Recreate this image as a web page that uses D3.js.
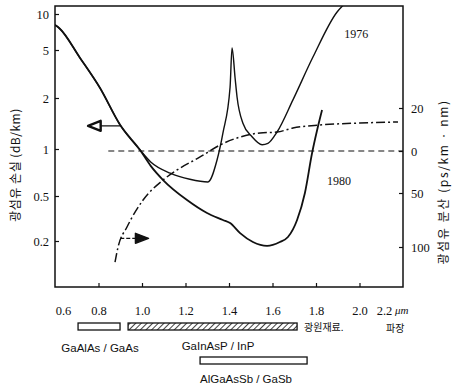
<!DOCTYPE html>
<html>
<head>
<meta charset="utf-8">
<script src="https://cdn.jsdelivr.net/npm/d3@7"></script>
<style>
  body { margin: 0; background: #fff; }
  text { fill: #111; }
</style>
</head>
<body>
<div id="viz"></div>
<script>
// fibre loss, 1976 (with the OH peak at 1.38um) and 1980
const wavelength1976 = [0.60, 0.62, 0.715, 0.807, 0.899, 0.991, 1.04, 1.13, 1.22, 1.303, 1.345, 1.372, 1.405, 1.414, 1.428, 1.437, 1.464, 1.506, 1.552, 1.579, 1.621, 1.694, 1.786, 1.897, 1.93];
const loss1976 = [8.1, 7.6, 4.3, 2.42, 1.39, 0.985, 0.826, 0.70, 0.64, 0.615, 0.85, 1.24, 2.47, 5.2, 2.93, 2.04, 1.42, 1.18, 1.06, 1.08, 1.26, 1.95, 4.37, 10.4, 12.1];
const wavelength1980 = [0.60, 0.62, 0.715, 0.807, 0.899, 0.991, 1.04, 1.097, 1.207, 1.299, 1.372, 1.405, 1.451, 1.510, 1.575, 1.634, 1.671, 1.713, 1.749, 1.782, 1.805, 1.828];
const loss1980 = [8.1, 7.6, 4.3, 2.42, 1.39, 0.985, 0.78, 0.633, 0.461, 0.354, 0.307, 0.288, 0.235, 0.196, 0.181, 0.196, 0.217, 0.307, 0.523, 0.943, 1.29, 1.70];

// material dispersion (right axis)
const wavelengthDisp = [0.876, 0.890, 0.931, 1.005, 1.097, 1.161, 1.267, 1.359, 1.451, 1.543, 1.621, 1.694, 1.818, 2.002, 2.177];
const dispersion = [-114, -100, -81.5, -56.5, -34.5, -22.6, -7.1, 2.8, 6.5, 8.4, 8.8, 10.7, 12.1, 13.0, 13.5];

// tick labels
const wavelengthTicks = [0.6, 0.8, 1.0, 1.2, 1.4, 1.6, 1.8, 2.0, 2.2];
const lossTicks = [10, 5, 2, 1, 0.5, 0.2];
const lossTickLabels = ["10", "5", "2", "1", "0.5", "0.2"];
const dispTicks = [20, 0, -50, -100];
const dispTickLabels = ["20", "0", "50", "100"];

// light source materials and their wavelength ranges
const sourceNames = ["GaAlAs / GaAs", "GaInAsP / InP", "AlGaAsSb / GaSb"];
const sourceStart = [0.706, 0.936, 1.267];
const sourceEnd = [0.899, 1.713, 1.759];

const W = 458, H = 386;
const plotL = 55, plotR = 403, plotT = 6, plotB = 287;

const svg = d3.select("#viz")
    .append("svg")
    .attr("width", W)
    .attr("height", H);

const defs = svg.append("defs");
defs.append("clipPath").attr("id", "plot")
    .append("rect")
    .attr("x", plotL).attr("y", plotT)
    .attr("width", plotR - plotL).attr("height", plotB - plotT);

const hatch = defs.append("pattern")
    .attr("id", "hatch")
    .attr("patternUnits", "userSpaceOnUse")
    .attr("width", 4).attr("height", 4)
    .attr("patternTransform", "rotate(45)");
hatch.append("line")
    .attr("x1", 0).attr("y1", 0).attr("x2", 0).attr("y2", 4)
    .attr("stroke", "#111").attr("stroke-width", 1.6);

// scales (the scanned chart's log axis is hand spaced, so piecewise)
const x = d3.scaleLinear().domain([0.6, 2.2]).range([plotL, plotR]);
const yLoss = d3.scaleLog().domain(lossTicks).range([14, 50, 98, 149, 196, 241]);
const yDisp = d3.scaleLinear().domain(dispTicks).range([108, 151, 193, 247]);

const serif = "'Liberation Serif', 'DejaVu Serif', serif";

// axes
const xAxis = d3.axisBottom(x)
    .tickValues(wavelengthTicks)
    .tickSize(-4)
    .tickPadding(19)
    .tickFormat(d3.format(".1f"));
const gx = svg.append("g")
    .attr("transform", `translate(0,${plotB})`)
    .call(xAxis);

gx.selectAll(".tick text")
    .attr("dx", (d) => d === 0.6 ? 8 : (d === 2.2 ? -19 : 0));
gx.selectAll(".tick line")
    .attr("opacity", (d) => (d === 0.6 || d === 2.2) ? 0 : 1);

const yAxis = d3.axisLeft(yLoss)
    .tickValues(lossTicks)
    .tickSize(-4)
    .tickPadding(6)
    .tickFormat((d, i) => lossTickLabels[i]);
const gy = svg.append("g")
    .attr("transform", `translate(${plotL},0)`)
    .call(yAxis);

const yAxisR = d3.axisRight(yDisp)
    .tickValues(dispTicks)
    .tickSize(-4)
    .tickPadding(8)
    .tickFormat((d, i) => dispTickLabels[i]);
const gyr = svg.append("g")
    .attr("transform", `translate(${plotR},0)`)
    .call(yAxisR);

[gx, gy, gyr].forEach((g) => {
    g.attr("font-family", null);
    g.select(".domain").remove();
    g.selectAll(".tick line").attr("stroke", "#111").attr("stroke-width", 1.2);
    g.selectAll("text").style("font-family", serif).style("font-size", "12.5px").attr("fill", "#111");
});

gx.append("text")
    .attr("x", x(2.2) - 8).attr("y", 27)
    .attr("text-anchor", "start")
    .attr("fill", "#111")
    .style("font-family", serif)
    .style("font-size", "11px")
    .style("font-style", "italic")
    .text("μm");

// frame
svg.append("rect")
    .attr("x", plotL).attr("y", plotT)
    .attr("width", plotR - plotL).attr("height", plotB - plotT)
    .attr("fill", "none")
    .attr("stroke", "#111")
    .attr("stroke-width", 1.5);

const plot = svg.append("g").attr("clip-path", "url(#plot)");

// zero-dispersion line
plot.append("line")
    .attr("x1", x(0.845)).attr("x2", x(2.2))
    .attr("y1", yDisp(0)).attr("y2", yDisp(0))
    .attr("stroke", "#111")
    .attr("stroke-width", 1.1)
    .attr("stroke-dasharray", "6,4");

const lossLine = d3.line()
    .x((d) => x(d[0]))
    .y((d) => yLoss(d[1]))
    .curve(d3.curveMonotoneX);

plot.append("path")
    .datum(d3.zip(wavelength1976, loss1976))
    .attr("fill", "none")
    .attr("stroke", "#111")
    .attr("stroke-width", 1.4)
    .attr("d", lossLine);

plot.append("path")
    .datum(d3.zip(wavelength1980, loss1980))
    .attr("fill", "none")
    .attr("stroke", "#111")
    .attr("stroke-width", 1.8)
    .attr("d", lossLine);

const dispLine = d3.line()
    .x((d) => x(d[0]))
    .y((d) => yDisp(d[1]))
    .curve(d3.curveMonotoneX);

plot.append("path")
    .datum(d3.zip(wavelengthDisp, dispersion))
    .attr("fill", "none")
    .attr("stroke", "#111")
    .attr("stroke-width", 1.5)
    .attr("stroke-dasharray", "9,3,2,3")
    .attr("d", dispLine);

// arrow pointing to the left axis (loss)
const ya = yLoss(1.37);
plot.append("line")
    .attr("x1", x(0.755)).attr("x2", x(0.9))
    .attr("y1", ya).attr("y2", ya)
    .attr("stroke", "#111").attr("stroke-width", 1.2);
plot.append("path")
    .attr("d", `M${x(0.752)},${ya} L${x(0.81)},${ya - 5} L${x(0.81)},${ya + 5} Z`)
    .attr("fill", "#fff")
    .attr("stroke", "#111")
    .attr("stroke-width", 2.4)
    .attr("stroke-linejoin", "round");

// arrow pointing to the right axis (dispersion)
const yb = yDisp(-92);
plot.append("line")
    .attr("x1", x(0.9)).attr("x2", x(0.97))
    .attr("y1", yb).attr("y2", yb)
    .attr("stroke", "#111").attr("stroke-width", 1.2)
    .attr("stroke-dasharray", "4,2");
plot.append("path")
    .attr("d", `M${x(1.03)},${yb} L${x(0.97)},${yb - 5} L${x(0.97)},${yb + 5} Z`)
    .attr("fill", "#111")
    .attr("stroke", "#111")
    .attr("stroke-width", 1.5)
    .attr("stroke-linejoin", "round");

// year labels
svg.append("text")
    .attr("x", x(1.93)).attr("y", yLoss(6.3))
    .style("font-family", serif).style("font-size", "12px")
    .text("1976");
svg.append("text")
    .attr("x", x(1.851)).attr("y", yLoss(0.59))
    .style("font-family", serif).style("font-size", "12px")
    .text("1980");

// axis titles
svg.append("text")
    .attr("transform", "translate(20,165) rotate(-90)")
    .attr("text-anchor", "middle")
    .style("font-family", "'Noto Sans CJK KR', sans-serif")
    .style("font-size", "12px")
    .style("letter-spacing", "0.5px")
    .attr("fill", "#333")
    .text("광섬유 손실 (dB/km)");

svg.append("text")
    .attr("transform", "translate(448,182) rotate(-90)")
    .attr("text-anchor", "middle")
    .style("font-family", "'Noto Sans CJK KR', sans-serif")
    .style("font-size", "12px")
    .style("letter-spacing", "1.6px")
    .attr("fill", "#333")
    .text("광섬유 분산 (ps/km · nm)");

// light source bars
const barRow = [323, 323, 357];
const labelRow = [352, 350, 383];
const labelX = [100, 218, 246];
svg.selectAll("rect.src")
    .data(sourceNames)
    .join("rect")
    .attr("class", "src")
    .attr("x", (d, i) => x(sourceStart[i]))
    .attr("y", (d, i) => barRow[i])
    .attr("width", (d, i) => x(sourceEnd[i]) - x(sourceStart[i]))
    .attr("height", 7)
    .attr("fill", (d, i) => i === 1 ? "url(#hatch)" : "#fff")
    .attr("stroke", "#111")
    .attr("stroke-width", 1.3);

svg.selectAll("text.src")
    .data(sourceNames)
    .join("text")
    .attr("class", "src")
    .attr("x", (d, i) => labelX[i])
    .attr("y", (d, i) => labelRow[i])
    .attr("text-anchor", "middle")
    .style("font-family", "'Liberation Sans', Arial, sans-serif")
    .style("font-size", "11.5px")
    .text((d) => d);

svg.append("text")
    .attr("x", 304).attr("y", 331)
    .style("font-family", "'Noto Sans CJK KR', sans-serif")
    .style("font-size", "10px")
    .attr("fill", "#333")
    .text("광원재료.");
svg.append("text")
    .attr("x", 386).attr("y", 332)
    .style("font-family", "'Noto Sans CJK KR', sans-serif")
    .style("font-size", "10px")
    .attr("fill", "#333")
    .text("파장");
</script>
</body>
</html>
